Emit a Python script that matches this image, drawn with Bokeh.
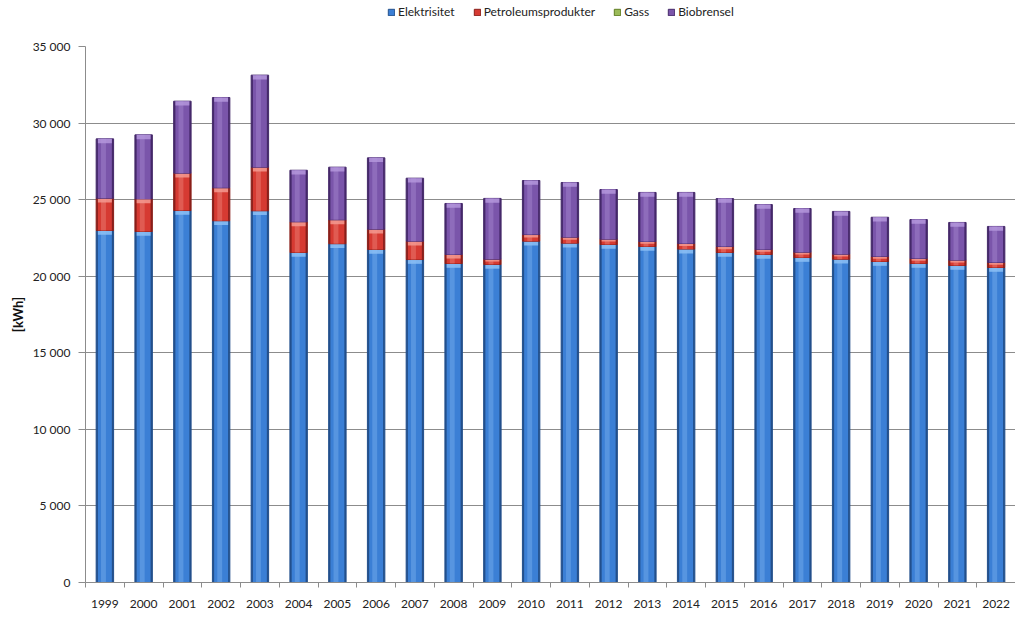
import numpy as np
from bokeh.plotting import figure
from bokeh.layouts import column
from bokeh.models import FixedTicker, Legend, LegendItem, Range1d, ColumnDataSource
from bokeh.embed import file_html
from bokeh.resources import INLINE

years = [1999, 2000, 2001, 2002, 2003, 2004, 2005, 2006, 2007, 2008, 2009, 2010,
         2011, 2012, 2013, 2014, 2015, 2016, 2017, 2018, 2019, 2020, 2021, 2022]
elektrisitet = [22990, 22920, 24290, 23620, 24270, 21550, 22120, 21750, 21090, 20830, 20770, 22290,
                22160, 22070, 21940, 21770, 21550, 21420, 21220, 21110, 20960, 20830, 20700, 20570]
petroleumsprodukter = [2100, 2130, 2440, 2150, 2850, 2000, 1560, 1320, 1200, 590, 340, 430,
                       390, 350, 330, 370, 390, 330, 350, 330, 330, 330, 350, 330]
gass = [0, 0, 0, 0, 0, 0, 0, 0, 0, 0, 0, 0,
        0, 0, 0, 0, 0, 0, 0, 0, 0, 0, 0, 0]
biobrensel = [3880, 4180, 4700, 5900, 6010, 3370, 3440, 4660, 4110, 3330, 3970, 3530,
              3570, 3240, 3200, 3330, 3130, 2930, 2850, 2790, 2560, 2540, 2460, 2350]
series_names = ["Elektrisitet", "Petroleumsprodukter", "Gass", "Biobrensel"]
y_ticks = [0, 5000, 10000, 15000, 20000, 25000, 30000, 35000]
y_tick_labels = ["0", "5 000", "10 000", "15 000", "20 000", "25 000", "30 000", "35 000"]
y_label = "[kWh]"

# colour styles: (edge/dark, main, light)
palettes = [
    ("#23508c", "#3b7fd5", "#8cc0f5"),
    ("#8a1f1a", "#d63a32", "#f39a90"),
    ("#5f7d22", "#9bbb59", "#cfe39a"),
    ("#45296a", "#7a55aa", "#b497dc"),
]

FONT = "Lato"
W = 1015

# ---------------- legend strip ----------------
lg = figure(width=W, height=24, output_backend="svg", toolbar_location=None,
            x_axis_type=None, y_axis_type=None, x_range=Range1d(0, 1), y_range=Range1d(0, 1),
            min_border=0)
lg.outline_line_color = None
lg.xgrid.grid_line_color = None
lg.ygrid.grid_line_color = None
legend_items = []
for name, (dark, main, light) in zip(series_names, palettes):
    proxy = lg.vbar(x=[-5], bottom=[0], top=[0], width=0, fill_color=main, line_color=dark)
    legend_items.append(LegendItem(label=name, renderers=[proxy]))
legend = Legend(items=legend_items, orientation="horizontal", location=(302, 5),
                label_text_font=FONT, label_text_font_size="12px", label_text_color="#222222",
                glyph_width=8, glyph_height=8, spacing=18, label_standoff=3,
                border_line_color=None, background_fill_alpha=0, margin=0, padding=4)
lg.add_layout(legend, "center")

# ---------------- main chart ----------------
p = figure(width=W, height=588, output_backend="svg", toolbar_location=None,
           x_range=Range1d(1998.5, 2022.5), y_range=Range1d(0, 35000),
           min_border_left=85, min_border_right=0, min_border_top=22, min_border_bottom=30)
p.outline_line_color = None
p.background_fill_color = "white"
p.border_fill_color = "white"

x = np.array(years, dtype=float)
series = [elektrisitet, petroleumsprodukter, gass, biobrensel]
bottom = np.zeros(len(years))
BW = 0.45
for name, vals, (dark, main, light) in zip(series_names, series, palettes):
    v = np.array(vals, dtype=float)
    top = bottom + v
    has = v > 0
    if has.any():
        src = ColumnDataSource(dict(x=x[has], bottom=bottom[has], top=top[has]))
        p.vbar(x="x", bottom="bottom", top="top", width=BW, source=src,
               fill_color=dark, line_color=dark, line_width=1)
        p.vbar(x=x[has], bottom=bottom[has], top=top[has], width=BW * 0.8,
               fill_color=main, line_color=None)
        p.vbar(x=x[has] - BW * 0.08, bottom=bottom[has], top=top[has], width=BW * 0.28,
               fill_color=light, fill_alpha=0.35, line_color=None)
        cap = np.minimum(280.0, v[has] * 0.45)
        p.vbar(x=x[has], bottom=top[has] - cap, top=top[has], width=BW * 0.8,
               fill_color=light, fill_alpha=0.85, line_color=None)
    bottom = top

# y axis
p.yaxis.ticker = FixedTicker(ticks=y_ticks)
p.yaxis.major_label_overrides = {t: l for t, l in zip(y_ticks, y_tick_labels)}
p.yaxis.axis_label = y_label
p.yaxis.axis_label_text_font = FONT
p.yaxis.axis_label_text_font_style = "bold"
p.yaxis.axis_label_text_font_size = "13px"
p.yaxis.axis_label_text_color = "#111111"
p.yaxis.axis_label_standoff = 4
p.yaxis.major_label_text_font = FONT
p.yaxis.major_label_text_font_size = "12px"
p.yaxis.major_label_text_color = "#222222"
p.yaxis.major_label_standoff = 8
p.yaxis.major_tick_out = 7
p.yaxis.major_tick_in = 0
p.yaxis.minor_tick_line_color = None
p.yaxis.axis_line_color = "#8c8c8c"
p.yaxis.major_tick_line_color = "#8c8c8c"

# x axis
p.xaxis.ticker = FixedTicker(ticks=years, minor_ticks=[y - 0.5 for y in years] + [years[-1] + 0.5])
p.xaxis.major_tick_out = 0
p.xaxis.major_tick_in = 0
p.xaxis.minor_tick_out = 5
p.xaxis.minor_tick_in = 0
p.xaxis.minor_tick_line_color = "#8c8c8c"
p.xaxis.axis_line_color = "#8c8c8c"
p.xaxis.major_label_text_font = FONT
p.xaxis.major_label_text_font_size = "12px"
p.xaxis.major_label_text_color = "#222222"
p.xaxis.major_label_standoff = 12

p.xgrid.grid_line_color = None
p.ygrid.ticker = FixedTicker(ticks=y_ticks)
p.ygrid.grid_line_color = "#8c8c8c"
p.ygrid.grid_line_width = 1

layout = column(lg, p, spacing=0)
open("out.html", "w").write(file_html(layout, INLINE))
